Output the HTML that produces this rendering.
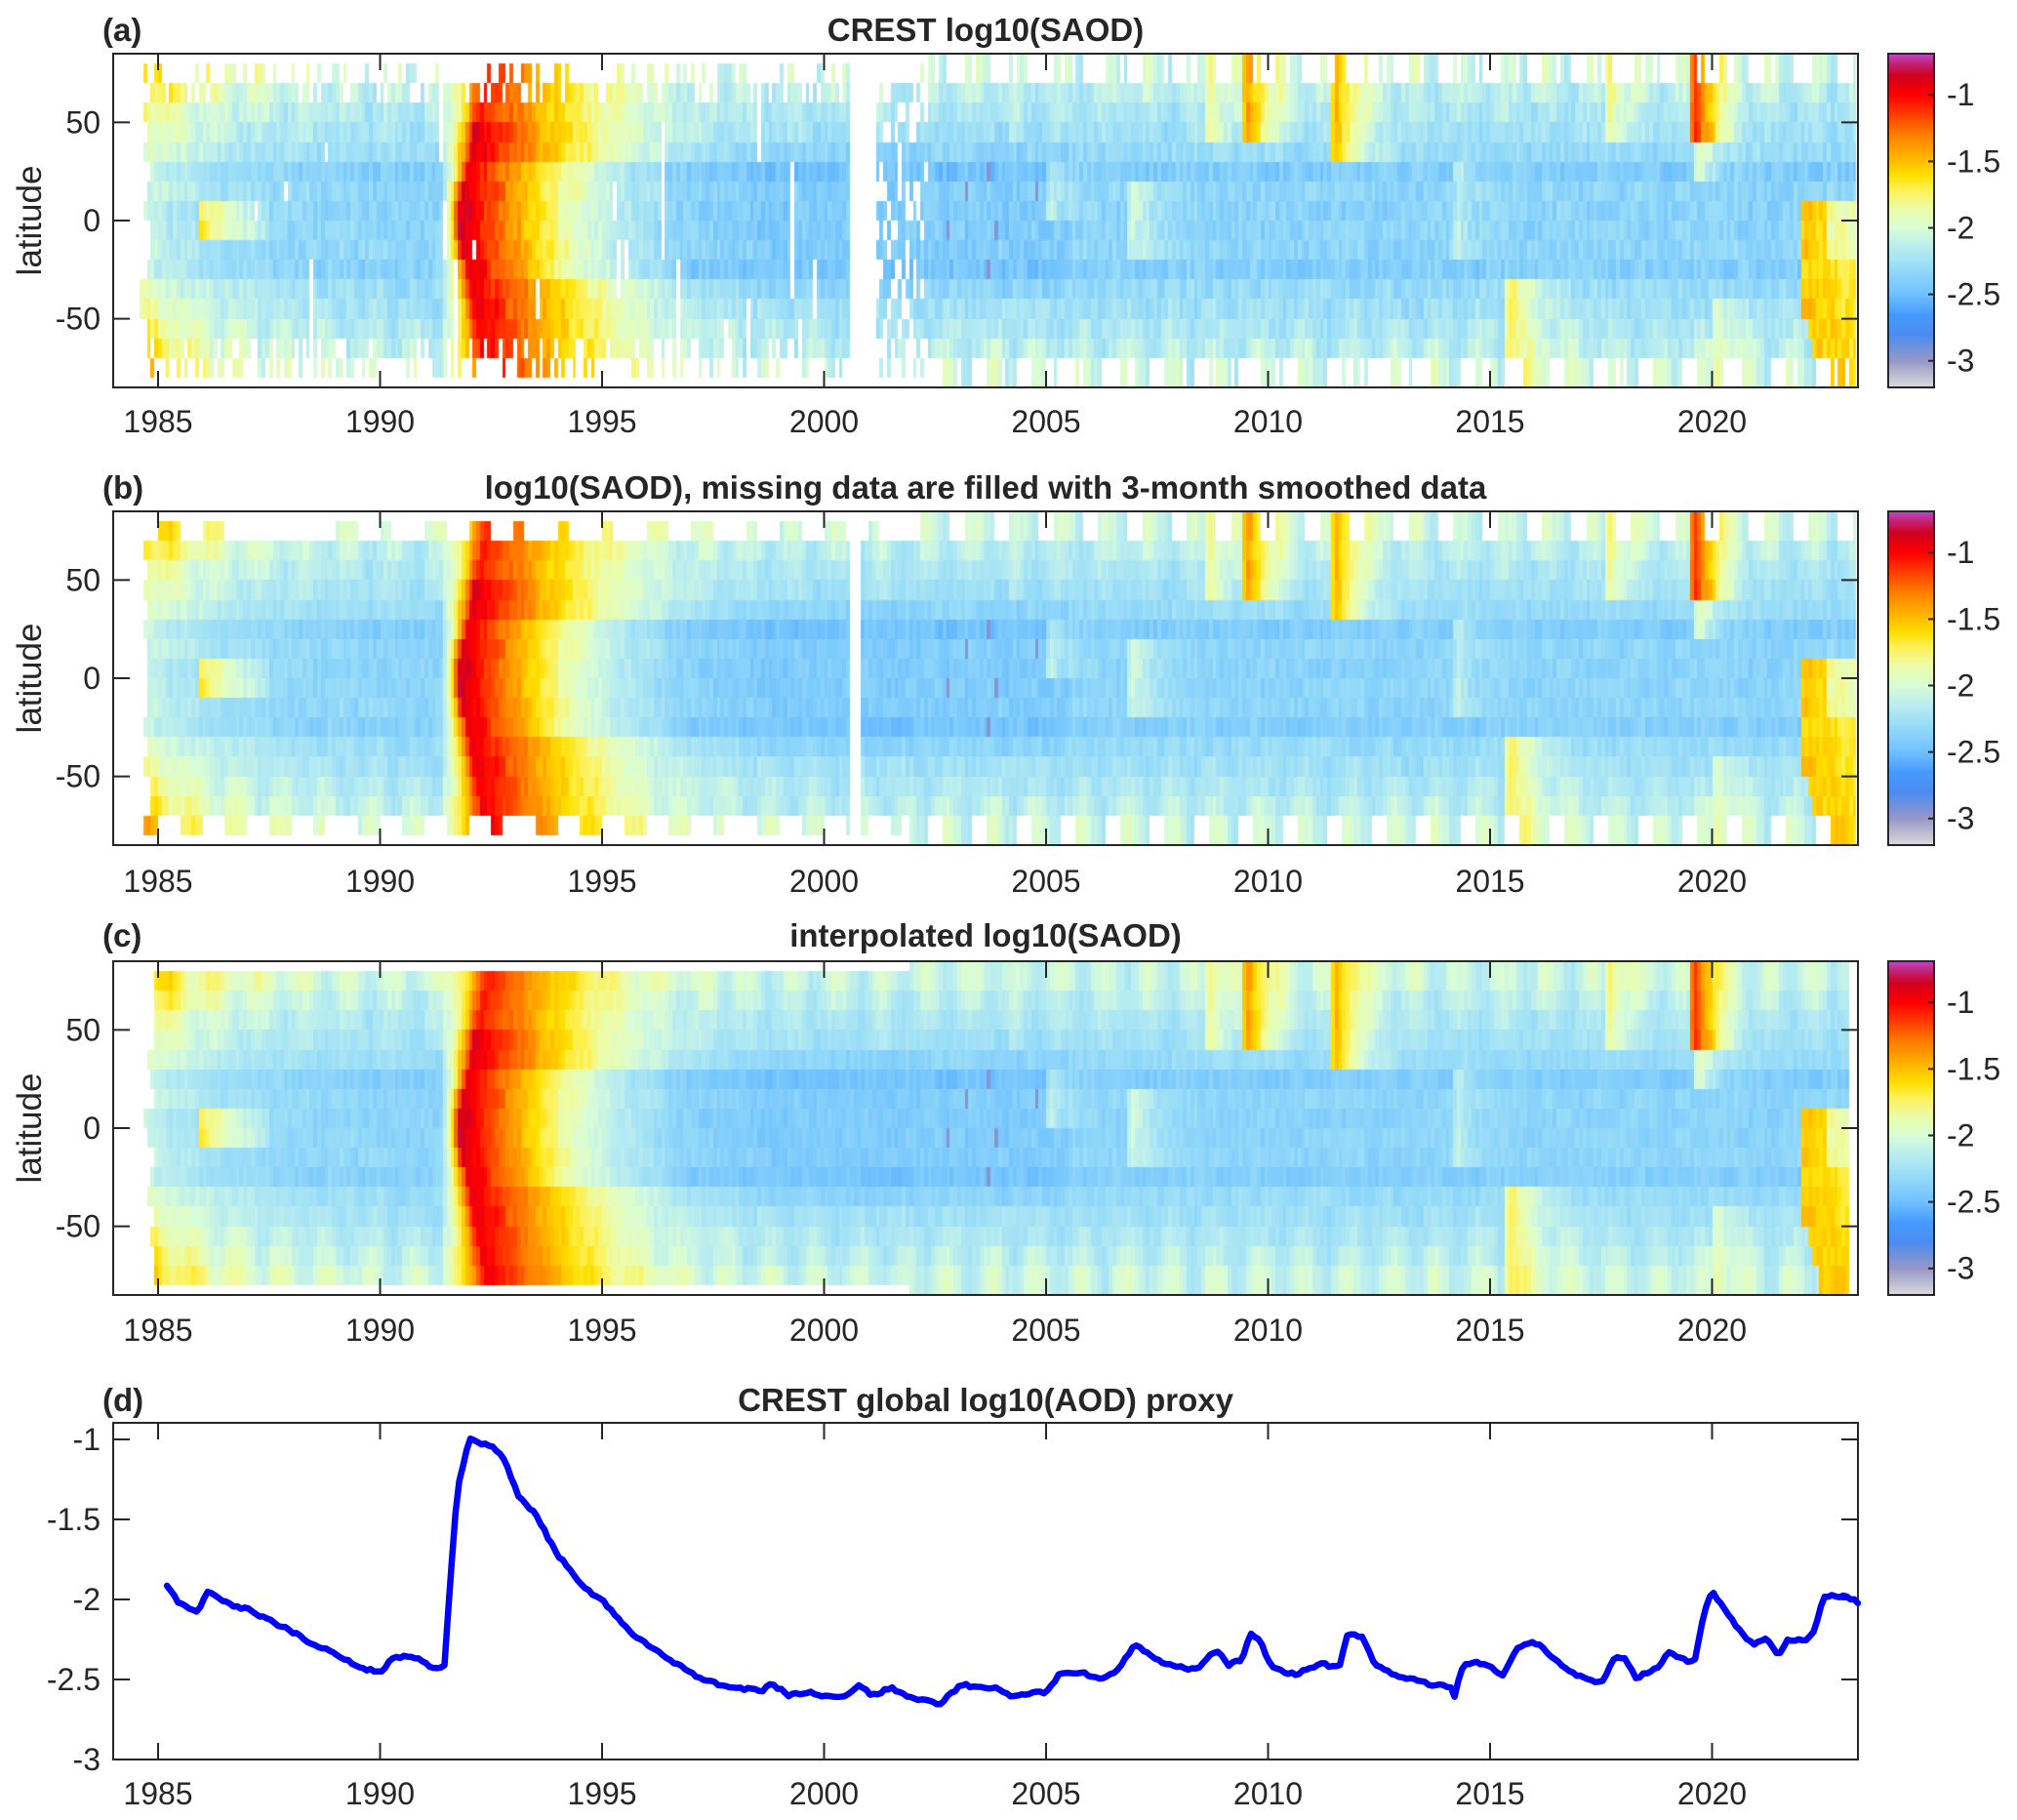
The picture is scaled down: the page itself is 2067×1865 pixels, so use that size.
<!DOCTYPE html>
<html><head><meta charset="utf-8">
<style>
html,body{margin:0;padding:0;background:#fff;}
#wrap{position:relative;width:2067px;height:1865px;overflow:hidden;}
canvas,svg{position:absolute;left:0;top:0;}
svg text{font-family:"Liberation Sans",Arial,sans-serif;fill:#262626;}
</style></head><body>
<div id="wrap">
<canvas id="cv" width="2067" height="1865"></canvas>
<svg id="sv" width="2067" height="1865" viewBox="0 0 2067 1865">
<g id="axes" fill="none" stroke="#262626" stroke-width="2"></g>
<g font-size="33" text-anchor="middle" font-weight="bold">
<text x="1010" y="42">CREST log10(SAOD)</text>
<text x="1010" y="511">log10(SAOD), missing data are filled with 3-month smoothed data</text>
<text x="1010" y="970">interpolated log10(SAOD)</text>
<text x="1010" y="1446">CREST global log10(AOD) proxy</text>
<text x="105" y="42" text-anchor="start">(a)</text>
<text x="105" y="511" text-anchor="start">(b)</text>
<text x="105" y="970" text-anchor="start">(c)</text>
<text x="105" y="1446" text-anchor="start">(d)</text>
</g>
<g font-size="35" text-anchor="middle">
<text transform="translate(42,226) rotate(-90)">latitude</text>
<text transform="translate(42,695) rotate(-90)">latitude</text>
<text transform="translate(42,1156) rotate(-90)">latitude</text>
</g>
<g id="labels" font-size="32"></g>
<polyline id="line" fill="none" stroke="#0000ff" stroke-width="6.5" stroke-linejoin="round" stroke-linecap="round"/>
</svg>
</div>
<script>
(function(){
const X=t=>162+(t-1985)*45.5;
const panels=[{y0:55,y1:397},{y0:524,y1:866},{y0:985,y1:1327}];
const stops=[[-3.2,[220,220,220]],[-3.0,[152,152,200]],[-2.8,[76,140,240]],[-2.65,[70,155,255]],[-2.5,[110,192,255]],[-2.3,[152,220,248]],[-2.15,[184,236,240]],[-2.0,[216,252,216]],[-1.85,[236,252,168]],[-1.7,[255,240,80]],[-1.6,[255,224,0]],[-1.45,[255,176,0]],[-1.3,[255,128,0]],[-1.15,[255,64,0]],[-1.0,[255,0,0]],[-0.85,[208,0,32]],[-0.75,[192,40,128]],[-0.7,[192,64,192]]];
function cmap(v){
 if(v<=stops[0][0])return stops[0][1];
 for(let k=1;k<stops.length;k++){if(v<=stops[k][0]){const a=stops[k-1],b=stops[k];const f=(v-a[0])/(b[0]-a[0]);return a[1].map((c,i)=>Math.round(c+(b[1][i]-c)*f));}}
 return stops[stops.length-1][1];
}
function rnd(a,b,c){let h=(a*374761393+b*668265263+c*2147483647)|0;h=(h^(h>>>13))*1274126177|0;h=h^(h>>>16);return ((h>>>0)%100000)/100000;}
const events=[[2008.6,40,90,-1.85,1.5],[2009.45,40,90,-1.35,1.3],[2011.45,30,90,-1.45,1.2],[2015.3,-90,-30,-1.75,0.9],[2017.6,45,90,-1.85,1.4],[2019.5,45,90,-0.95,1.6],[2019.6,25,45,-1.95,1.4],[2020.0,-75,-45,-2.1,1.2],[2006.8,-20,20,-2.15,1.0],[2014.15,-20,30,-2.25,1.5],[2005.0,0,30,-2.2,1.5]];
function val(t,lat){
 const al=Math.abs(lat);
 let b=-2.36+0.33*Math.pow(al/80,2);
 if(lat>15&&lat<35)b-=0.08;
 if(lat<-15&&lat>-35)b-=0.07;
 const ph=((t%1)+1)%1;
 if(al>35){const s=Math.cos(2*Math.PI*(ph-(lat>0?0.3:0.8)));b+=0.12*s*(al-35)/45;}
 if(t<1991.5)b+=0.65*Math.exp(-(t-1984.5)/1.8)*(0.4+0.6*al/80);
 if(t>1996.5&&t<2005.5&&al<40)b-=0.06;
 let L=Math.pow(10,b);
 const ev=lg=>{L+=Math.pow(10,lg);};
 if(t>1985.9&&t<1987.5&&lat>-15&&lat<15)ev(-1.75-(t-1986)*0.6-al/40);
 if(t>1991.45){
  const tp=1991.75+0.7*al/80,pk=-0.85-0.15*al/80-(lat>50?0.1:0);
  let lg;
  if(t<tp)lg=-2.6+(pk+2.6)*(t-1991.45)/(tp-1991.45);
  else lg=pk-0.38*(t-tp)-(al<30?0.1*(t-tp):0);
  ev(lg);
 }
 for(const e of events){if(t>=e[0]&&lat>=e[1]&&lat<=e[2]){let lg=e[3]-e[4]*(t-e[0]);if(t<e[0]+0.08)lg-=0.3;ev(lg);}}
 if(t>=2022.0){const lmin=-45-70*(t-2022);if(lat>=lmin&&lat<=5)ev(-1.6-0.15*(t-2022)-(lat>-20&&t>2022.6?0.3:0));}
 return Math.log10(L);
}
const cv=document.getElementById('cv'),ctx=cv.getContext('2d');
const nCol=Math.round((2023.3-1984.5)*12);
for(let p=0;p<3;p++){
 const P=panels[p],ym=(P.y0+P.y1)/2,sc=(P.y1-P.y0)/170;
 const Y=l=>ym-l*sc;
 for(let i=0;i<nCol;i++){
  const t=1984.5+i/12+1/24;
  const xa=Math.round(X(t-1/24)),xb=Math.round(X(t+1/24));
  const gapStart=Math.floor(rnd(i,7,3)*16),gapLen=1+Math.floor(rnd(i,9,5)*8);
  const ph=((t%1)+1)%1;
  for(let r=0;r<16;r++){
   const lat=75-r*10, al=Math.abs(lat);
   let top=lat+5,bot=lat-5;
   const post=t>=(p==0?2002.3:2001.9);
   if(post){if(r==0)top=85;if(r==15)bot=-85;}
   let miss=false;
   const start=1984.6+rnd(r,3,p)*0.25+(p==2?0.1:0);
   if(t<start)miss=true;
   if(t>(p==2?2023.1:2023.28))miss=true;
   if(p==0){
    if(t>=2000.55&&t<2001.2)miss=true;
    if(!post){
     if(al>=75&&rnd(i,r,11)>0.38)miss=true;
     if(al==65&&rnd(i,r,12)>0.75)miss=true;
     if(t<2000.55&&rnd(i,1,13)<0.16&&r>=gapStart&&r<gapStart+gapLen)miss=true;
     if(t>2001.2&&rnd(i,r,14)<0.3)miss=true;
    }else{
     if(al>=75){const w=lat>0?(ph<0.15||ph>0.85):(ph>0.35&&ph<0.65);if(w||rnd(i,r,15)<0.2)miss=true;}
    }
   }else if(p==1){
    if(t>=2000.6&&t<2000.85)miss=true;
    if(!post){if(al>=75){const w=Math.sin(2*Math.PI*(t*1.0+(lat>0?0:0.5)))<0;if(w||rnd(Math.floor(i/3),r,16)<0.2)miss=true;}}
    else if(al>=75){const w=lat>0?(ph<0.15||ph>0.85):(ph>0.35&&ph<0.65);if(w)miss=true;}
   }
   if(miss)continue;
   const nz=(p==0?0.16:(p==1?0.11:0.09))*(rnd(i,r,21)-0.5)+0.06*(rnd(Math.floor(i/4),r,22)-0.5);
   let v=val(t,lat)+nz;
   if(t>2002.3&&t<2005.2&&al<30&&rnd(i,r,30)<0.03)v=-2.95;
   const c=cmap(v);
   ctx.fillStyle='rgb('+c[0]+','+c[1]+','+c[2]+')';
   const ya=Math.round(Y(top)),yb=Math.round(Y(bot));
   ctx.fillRect(xa,ya,xb-xa,yb-ya);
  }
 }
 for(let y=P.y0;y<P.y1;y++){const v=-0.69-(y-P.y0)/(P.y1-P.y0)*(3.2-0.69);const c=cmap(v);ctx.fillStyle='rgb('+c[0]+','+c[1]+','+c[2]+')';ctx.fillRect(1935,y,47,1);}
}
const NS='http://www.w3.org/2000/svg';
const ax=document.getElementById('axes'),lb=document.getElementById('labels');
function el(tag,attrs,parent,txt){const e=document.createElementNS(NS,tag);for(const k in attrs)e.setAttribute(k,attrs[k]);if(txt!==undefined)e.textContent=txt;parent.appendChild(e);return e;}
const years=[1985,1990,1995,2000,2005,2010,2015,2020];
function drawAxes(y0,y1,yt,labY){
 el('rect',{x:116,y:y0,width:1788,height:y1-y0},ax);
 for(const yr of years){const x=X(yr);el('line',{x1:x,y1:y1,x2:x,y2:y1-17},ax);el('line',{x1:x,y1:y0,x2:x,y2:y0+17},ax);el('text',{x:x,y:labY,'text-anchor':'middle'},lb,String(yr));}
 for(const [y,s] of yt){el('line',{x1:116,y1:y,x2:133,y2:y},ax);el('line',{x1:1904,y1:y,x2:1887,y2:y},ax);el('text',{x:103,y:y+11,'text-anchor':'end'},lb,s);}
}
const labYs=[443,914,1374];
panels.forEach((P,k)=>{
 const ym=(P.y0+P.y1)/2,sc=(P.y1-P.y0)/170;
 drawAxes(P.y0,P.y1,[[ym-50*sc,'50'],[ym,'0'],[ym+50*sc,'-50']],labYs[k]);
 el('rect',{x:1935,y:P.y0,width:47,height:P.y1-P.y0},ax);
 for(const v of [-1,-1.5,-2,-2.5,-3]){const y=P.y0+(-0.69-v)/(3.2-0.69)*(P.y1-P.y0);el('line',{x1:1982,y1:y,x2:1976,y2:y},ax);el('text',{x:1995,y:y+11,'text-anchor':'start'},lb,String(v));}
});
const YD=v=>1475+(-1-v)*164;
drawAxes(1458,1803,[[YD(-1),'-1'],[YD(-1.5),'-1.5'],[YD(-2),'-2'],[YD(-2.5),'-2.5'],[YD(-3),'-3']],1849);
const kp=[[1985.2,-1.92],[1985.5,-2.03],[1985.9,-2.08],[1986.1,-1.95],[1986.5,-2.02],[1987,-2.06],[1987.5,-2.13],[1988,-2.2],[1988.5,-2.28],[1989,-2.34],[1989.5,-2.42],[1990,-2.46],[1990.3,-2.36],[1990.8,-2.36],[1991.2,-2.43],[1991.45,-2.41],[1991.6,-1.8],[1991.75,-1.3],[1992.0,-1.0],[1992.5,-1.04],[1992.8,-1.12],[1993.1,-1.35],[1993.5,-1.47],[1994,-1.72],[1994.6,-1.93],[1995,-2.0],[1995.5,-2.17],[1996,-2.28],[1996.5,-2.37],[1997,-2.46],[1997.5,-2.52],[1998,-2.55],[1998.6,-2.57],[1998.8,-2.52],[1999.2,-2.6],[1999.6,-2.58],[2000,-2.6],[2000.5,-2.6],[2000.8,-2.54],[2001.1,-2.6],[2001.5,-2.55],[2002,-2.62],[2002.6,-2.65],[2003.1,-2.53],[2003.5,-2.55],[2003.8,-2.55],[2004.2,-2.6],[2004.5,-2.59],[2005,-2.58],[2005.3,-2.47],[2005.8,-2.45],[2006.2,-2.5],[2006.6,-2.45],[2007.0,-2.28],[2007.5,-2.38],[2008,-2.42],[2008.4,-2.44],[2008.7,-2.35],[2008.9,-2.33],[2009.1,-2.41],[2009.4,-2.38],[2009.6,-2.22],[2009.8,-2.25],[2010.1,-2.43],[2010.6,-2.47],[2011.2,-2.4],[2011.6,-2.43],[2011.8,-2.21],[2012.1,-2.23],[2012.4,-2.4],[2012.8,-2.47],[2013.3,-2.5],[2013.7,-2.54],[2014.1,-2.54],[2014.2,-2.6],[2014.4,-2.4],[2014.7,-2.39],[2015.0,-2.42],[2015.3,-2.48],[2015.6,-2.3],[2015.9,-2.27],[2016.2,-2.3],[2016.5,-2.39],[2016.9,-2.47],[2017.3,-2.5],[2017.5,-2.53],[2017.8,-2.36],[2018.0,-2.36],[2018.3,-2.49],[2018.8,-2.42],[2019.0,-2.32],[2019.4,-2.38],[2019.6,-2.39],[2019.85,-2.05],[2020.0,-1.95],[2020.2,-2.03],[2020.5,-2.15],[2020.9,-2.28],[2021.2,-2.24],[2021.5,-2.35],[2021.7,-2.26],[2022.1,-2.25],[2022.3,-2.2],[2022.5,-1.98],[2023.0,-1.98],[2023.3,-2.02]];
const pts=[];
for(let t=1985.2;t<=2023.3;t+=1/12){
 let k=1;while(k<kp.length-1&&kp[k][0]<t)k++;
 const a=kp[k-1],b=kp[k];const f=Math.max(0,Math.min(1,(t-a[0])/(b[0]-a[0])));
 let v=a[1]+(b[1]-a[1])*f+0.018*(rnd(Math.round(t*12),5,5)-0.5);
 pts.push(X(t).toFixed(1)+','+YD(v).toFixed(1));
}
document.getElementById('line').setAttribute('points',pts.join(' '));
})();
</script>
</body></html>
